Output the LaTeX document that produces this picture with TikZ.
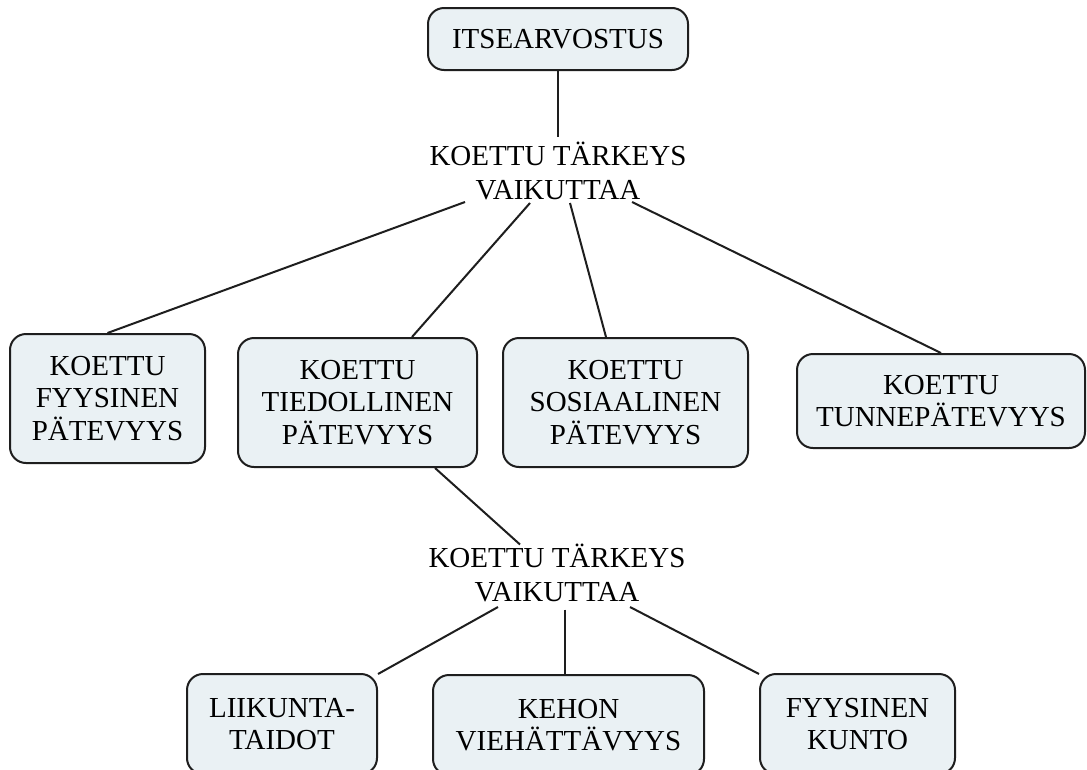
\documentclass[tikz,border=0pt]{standalone}
\usepackage{fontspec}
\setmainfont{Liberation Serif}
\usetikzlibrary{calc}
\definecolor{boxfill}{RGB}{234,241,244}
\definecolor{edge}{RGB}{30,30,30}
\tikzset{
  concept/.style={draw=edge, line width=2pt, fill=boxfill, rounded corners=16pt,
    align=center, inner sep=0pt, font=\fontsize{29}{32.5}\selectfont},
  linkword/.style={align=center, inner sep=0pt, font=\fontsize{29}{34}\selectfont},
  link/.style={draw=edge, line width=2pt}
}
\begin{document}
\begin{tikzpicture}[x=1pt,y=-1pt]
\useasboundingbox (0,0) rectangle (1087,769);
\fill[white] (0,0) rectangle (1087,769);
\clip (0,0) rectangle (1087,769);

% upper level
\node[concept, minimum width=260pt, minimum height=62pt] (top) at (558,39) {ITSEARVOSTUS};
\node[linkword] (lab1) at (558,170.5) {KOETTU TÄRKEYS\\VAIKUTTAA};

\node[concept, minimum width=195pt, minimum height=129pt] (fys) at (107.5,398.5) {KOETTU\\FYYSINEN\\PÄTEVYYS};
\node[concept, minimum width=239pt, minimum height=129pt] (tied) at (357.5,402.5) {KOETTU\\TIEDOLLINEN\\PÄTEVYYS};
\node[concept, minimum width=245pt, minimum height=129pt] (sos) at (625.5,402.5) {KOETTU\\SOSIAALINEN\\PÄTEVYYS};
\node[concept, minimum width=288pt, minimum height=94pt] (tun) at (941,401) {KOETTU\\TUNNEPÄTEVYYS};

% lower level
\node[linkword] (lab2) at (557,572.5) {KOETTU TÄRKEYS\\VAIKUTTAA};
\node[concept, minimum width=190pt, minimum height=100pt] (liik) at (282,724) {LIIKUNTA-\\TAIDOT};
\node[concept, minimum width=271pt, minimum height=100pt] (keho) at (568.5,725) {KEHON\\VIEHÄTTÄVYYS};
\node[concept, minimum width=195pt, minimum height=100pt] (kunto) at (857.5,724) {FYYSINEN\\KUNTO};

% connectors
\draw[link] (top.south) -- ($(lab1.center)+(0,-33.5)$);
\draw[link] ($(lab1.center)+(-93,31.5)$) -- (fys.north);
\draw[link] ($(lab1.center)+(-28,32.5)$) -- ([xshift=54.5pt]tied.north);
\draw[link] ($(lab1.center)+(12,32.5)$) -- ([xshift=-19.5pt]sos.north);
\draw[link] ($(lab1.center)+(74,31.5)$) -- (tun.north);

\draw[link] ([xshift=77.5pt]tied.south) -- ($(lab2.center)+(-37,-28)$);
\draw[link] ($(lab2.center)+(-59,34.5)$) -- ([yshift=-1pt]liik.north east);
\draw[link] ($(lab2.center)+(8,37)$) -- ([xshift=-3.5pt]keho.north);
\draw[link] ($(lab2.center)+(73,34.5)$) -- ([yshift=-1pt]kunto.north west);
\end{tikzpicture}
\end{document}
